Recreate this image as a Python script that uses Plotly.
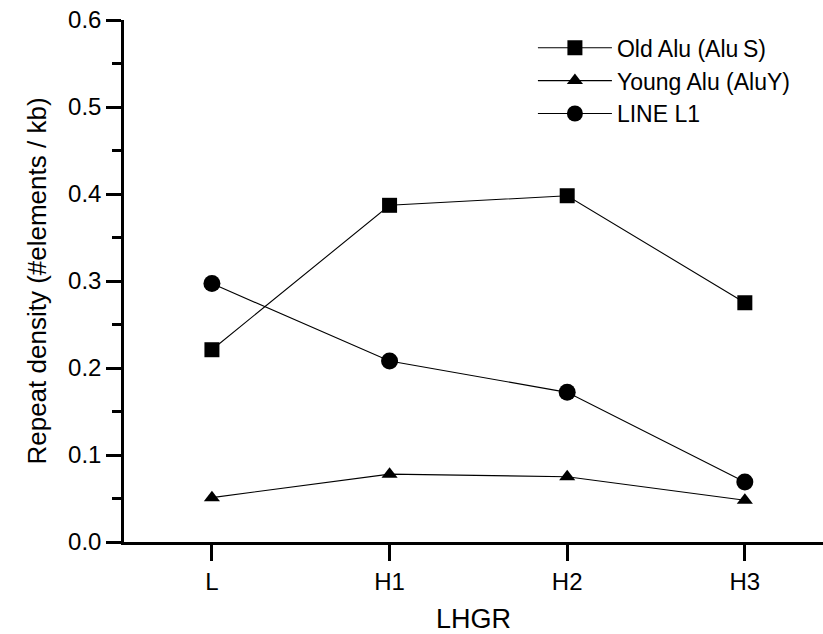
import plotly.graph_objects as go

categories = ["L", "H1", "H2", "H3"]
old_alu = [0.221, 0.387, 0.398, 0.275]
young_alu = [0.051, 0.078, 0.075, 0.048]
line_l1 = [0.297, 0.208, 0.172, 0.069]

series = [
    ("Old Alu (Alu\u2009S)", old_alu, "square", 15),
    ("Young Alu (AluY)", young_alu, "triangle-up", 14),
    ("LINE L1", line_l1, "circle", 17),
]

fig = go.Figure()
for name, vals, sym, size in series:
    fig.add_trace(go.Scatter(
        x=list(range(len(categories))), y=vals, name=name, mode="lines+markers",
        line=dict(color="black", width=1.1),
        marker=dict(symbol=sym, size=size, color="black"),
    ))

font = "Liberation Sans, Arial, sans-serif"
fig.update_layout(
    width=823, height=634,
    margin=dict(l=124, r=0, t=20, b=92),
    paper_bgcolor="white", plot_bgcolor="white",
    font=dict(family=font, color="black", size=24),
    showlegend=True,
    legend=dict(x=0.585, y=0.988, xanchor="left", yanchor="top",
                bgcolor="rgba(0,0,0,0)", itemwidth=74,
                font=dict(size=23, family=font)),
    xaxis=dict(
        range=[-0.495, 3.44], tickmode="array",
        tickvals=list(range(len(categories))), ticktext=categories,
        showline=True, linecolor="black", linewidth=2.5,
        ticks="outside", ticklen=16, tickwidth=2.5, tickcolor="black",
        showgrid=False, zeroline=False,
        tickfont=dict(size=24),
        title=dict(text="LHGR", font=dict(size=27), standoff=16),
    ),
    yaxis=dict(
        range=[0, 0.6], dtick=0.1, tickformat=".1f",
        showline=True, linecolor="black", linewidth=2.5,
        ticks="outside", ticklen=15, tickwidth=2.5, tickcolor="black",
        minor=dict(dtick=0.05, ticks="outside", ticklen=9, tickwidth=2.5, tickcolor="black"),
        showgrid=False, zeroline=False,
        tickfont=dict(size=24),
        title=dict(text="Repeat density (#elements / kb)", font=dict(size=26), standoff=14),
    ),
)

fig.write_html("out.html")
